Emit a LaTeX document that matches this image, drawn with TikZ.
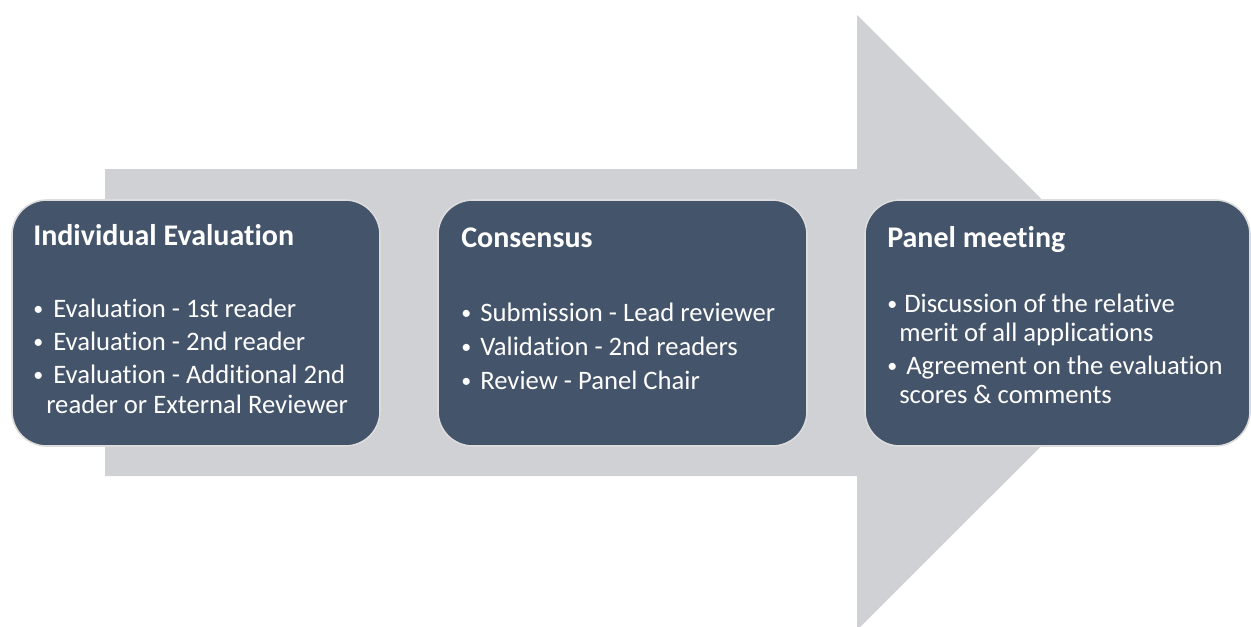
\documentclass[tikz,border=0pt]{standalone}
\usepackage{fontspec}
\setmainfont{Carlito}[Ligatures={NoCommon}]
\definecolor{arrowgray}{HTML}{CFD1D5}
\definecolor{boxblue}{HTML}{44546A}
\definecolor{boxedge}{HTML}{DCDCDC}
\begin{document}
\begin{tikzpicture}[x=0.75pt,y=-0.75pt,
  box/.style={draw=boxedge, line width=1.2pt, fill=boxblue, rounded corners=26pt, minimum height=184.5pt, inner sep=0pt},
  title/.style={anchor=base west, inner sep=0pt, text=white, font=\bfseries\fontsize{22.5}{26}\selectfont},
  item/.style={anchor=base west, inner sep=0pt, text=white, font=\fontsize{20}{24}\selectfont},
  bul/.style={anchor=base west, inner sep=0pt, text=white, font=\fontsize{15}{18}\selectfont}]
\useasboundingbox (0,0) rectangle (1251,626);
\clip (0,0) rectangle (1251,626);
% big arrow
\fill[arrowgray] (105,169) -- (857,169) -- (857,15) -- (1165,322.5) -- (857,630) -- (857,476) -- (105,476) -- cycle;
% boxes
\node[box, minimum width=276pt] (b1) at (196,323) {};
\node[box, minimum width=276.75pt] (b2) at (622.5,323) {};
\node[box, minimum width=288.75pt] (b3) at (1057.5,323) {};
% box 1 text
\node[title] (t1) at (33,245) {Individual Evaluation};
\node[bul] (p11) at (33,315) {•};
\node[item] (i11) at (53,317) {Evaluation - 1st reader};
\node[bul] (p12) at (33,348) {•};
\node[item] (i12) at (53,350) {Evaluation - 2nd reader};
\node[bul] (p13) at (33,381) {•};
\node[item] (i13) at (53,383) {Evaluation - Additional 2nd};
\node[item] (i14) at (46,413) {reader or External Reviewer};
% box 2 text
\node[title] (t2) at (461,247) {Consensus};
\node[bul] (p21) at (461,319) {•};
\node[item] (i21) at (480,321) {Submission - Lead reviewer};
\node[bul] (p22) at (461,353) {•};
\node[item] (i22) at (480,355) {Validation - 2nd readers};
\node[bul] (p23) at (461,387) {•};
\node[item] (i23) at (480,389) {Review - Panel Chair};
% box 3 text
\node[title] (t3) at (887,247) {Panel meeting};
\node[bul] (p31) at (887,310) {•};
\node[item] (i31) at (904,312) {Discussion of the relative};
\node[item] (i32) at (899,341) {merit of all applications};
\node[bul] (p32) at (887,372) {•};
\node[item] (i33) at (906,374) {Agreement on the evaluation};
\node[item] (i34) at (899,403) {scores \& comments};
\end{tikzpicture}
\end{document}
